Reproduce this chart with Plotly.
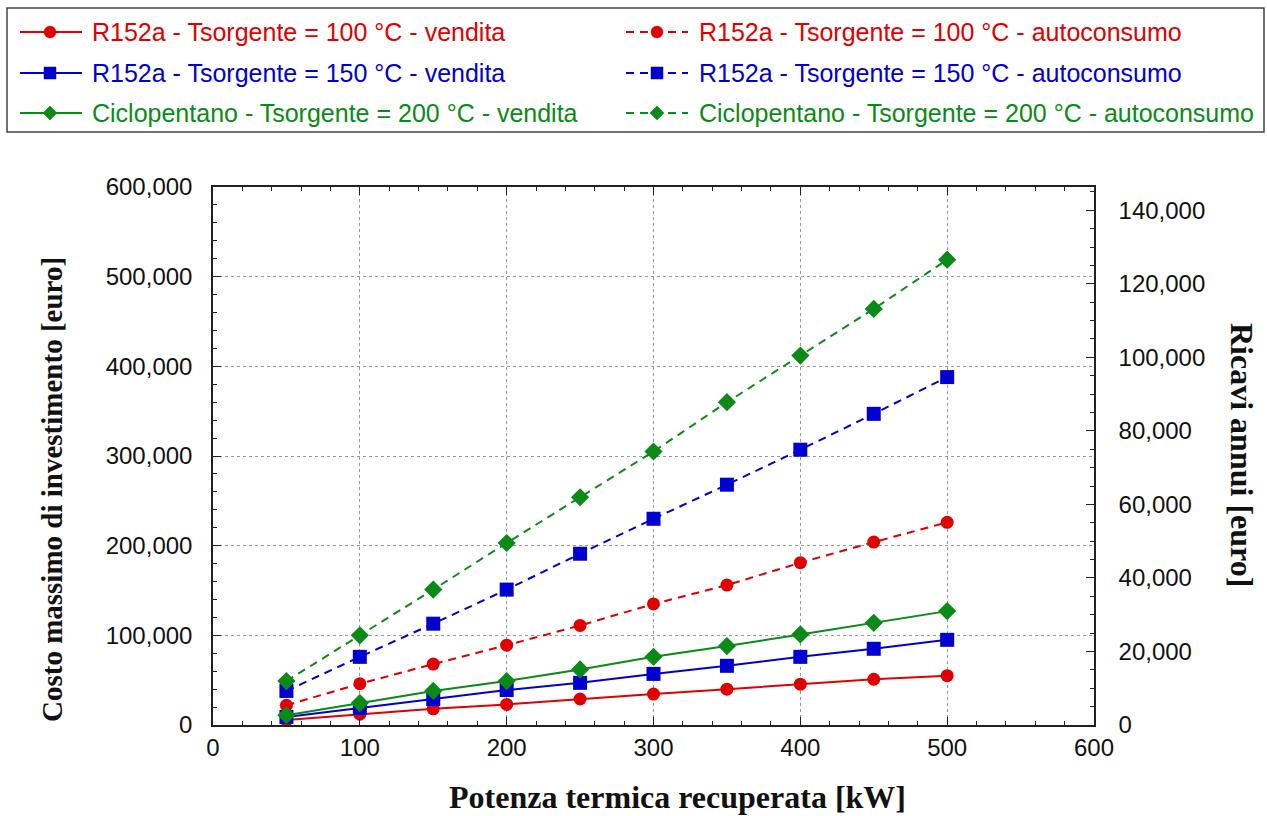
import plotly.graph_objects as go

# Potenza termica recuperata [kW]
potenza = [50, 100, 150, 200, 250, 300, 350, 400, 450, 500]

# Costo massimo di investimento [euro]
r152a_100_vendita = [5500, 12000, 18000, 23000, 29000, 34500, 40000, 45500, 51000, 55000]
r152a_100_autoconsumo = [22000, 46000, 68000, 89000, 111000, 135000, 156000, 181000, 204000, 226000]
r152a_150_vendita = [9000, 19000, 29000, 39000, 47000, 57000, 66000, 76000, 85000, 95000]
r152a_150_autoconsumo = [38000, 76000, 113000, 151000, 191000, 230000, 268000, 307000, 347000, 388000]
ciclo_200_vendita = [11000, 24500, 38000, 49000, 62000, 76000, 88000, 101000, 114000, 127000]
ciclo_200_autoconsumo = [49000, 100000, 151000, 203000, 254000, 305000, 360000, 412000, 464000, 519000]

RED = "#e00000"
BLUE = "#0000d0"
GREEN = "#0b8a17"

# (label, values, colour, marker, dashed, marker size)
series = [
    ("R152a - Tsorgente = 100 °C - vendita", r152a_100_vendita, RED, "circle", False, 13),
    ("R152a - Tsorgente = 100 °C - autoconsumo", r152a_100_autoconsumo, RED, "circle", True, 13),
    ("R152a - Tsorgente = 150 °C - vendita", r152a_150_vendita, BLUE, "square", False, 14),
    ("R152a - Tsorgente = 150 °C - autoconsumo", r152a_150_autoconsumo, BLUE, "square", True, 14),
    ("Ciclopentano - Tsorgente = 200 °C - vendita", ciclo_200_vendita, GREEN, "diamond", False, 14),
    ("Ciclopentano - Tsorgente = 200 °C - autoconsumo", ciclo_200_autoconsumo, GREEN, "diamond", True, 14),
]

W, H = 1267, 816
PL, PR, PT, PB = 213, 1094, 187, 725   # plot area in pixels

def px(x):
    return (x - PL) / (PR - PL)

def py(y):
    return (PB - y) / (PB - PT)

DASH = "8px,6px"

fig = go.Figure()
for name, vals, color, symbol, dashed, msize in series:
    fig.add_trace(go.Scatter(
        x=potenza, y=vals, mode="lines+markers", name=name, showlegend=False,
        line=dict(color=color, width=2, dash=DASH if dashed else "solid"),
        marker=dict(color=color, symbol=symbol, size=msize),
    ))

# secondary axis (Ricavi annui) carries no marks of its own
fig.add_trace(go.Scatter(x=[None], y=[None], yaxis="y2", showlegend=False, hoverinfo="skip"))

# ---- legend box drawn by hand: two columns, three rows ----
shapes = [dict(type="rect", xref="paper", yref="paper",
               x0=px(7), x1=px(1264), y0=py(8), y1=py(132),
               line=dict(color="#444", width=1.5), fillcolor="white", layer="above")]
annotations = []
rows = [32, 73, 113]
cols = [(20, 82, 50, 90), (626, 688, 657, 697)]  # line start, line end, marker x, text x
for i, (name, vals, color, symbol, dashed, msize) in enumerate(series):
    r, c = rows[i // 2], cols[i % 2]
    x0, x1, mx, tx = c
    shapes.append(dict(type="line", xref="paper", yref="paper",
                       x0=px(x0), x1=px(x1), y0=py(r), y1=py(r), layer="above",
                       line=dict(color=color, width=2, dash=DASH if dashed else "solid")))
    if symbol == "circle":
        s = 6
        shapes.append(dict(type="circle", xref="paper", yref="paper",
                           x0=px(mx - s), x1=px(mx + s), y0=py(r + s), y1=py(r - s),
                           fillcolor=color, line=dict(color=color, width=0.5), layer="above"))
    elif symbol == "square":
        s = 6
        shapes.append(dict(type="rect", xref="paper", yref="paper",
                           x0=px(mx - s), x1=px(mx + s), y0=py(r + s), y1=py(r - s),
                           fillcolor=color, line=dict(color=color, width=0.5), layer="above"))
    else:
        s = 7
        path = (f"M {px(mx - s)} {py(r)} L {px(mx)} {py(r - s)} "
                f"L {px(mx + s)} {py(r)} L {px(mx)} {py(r + s)} Z")
        shapes.append(dict(type="path", xref="paper", yref="paper", path=path,
                           fillcolor=color, line=dict(color=color, width=0.5), layer="above"))
    annotations.append(dict(text=name, xref="paper", yref="paper", x=px(tx), y=py(r),
                            xanchor="left", yanchor="middle", showarrow=False,
                            font=dict(family="Liberation Sans, Arial", size=25, color=color)))

tick_font = dict(family="Liberation Sans, Arial", size=24, color="#111")
serif = "Liberation Serif, Times New Roman"

annotations += [
    dict(text="<b>Potenza termica recuperata [kW]</b>", xref="paper", yref="paper",
         x=px(677), y=py(797), xanchor="center", yanchor="middle",
         showarrow=False, font=dict(family=serif, size=32, color="#111")),
    dict(text="<b>Costo massimo di investimento [euro]</b>", xref="paper", yref="paper",
         x=px(52), y=py(490), xanchor="center", yanchor="middle",
         textangle=-90, showarrow=False, font=dict(family=serif, size=29, color="#111")),
    dict(text="<b>Ricavi annui [euro]</b>", xref="paper", yref="paper",
         x=px(1242), y=py(455), xanchor="center", yanchor="middle",
         textangle=90, showarrow=False, font=dict(family=serif, size=32, color="#111")),
]

fig.update_layout(
    width=W, height=H,
    margin=dict(l=PL, r=W - PR, t=PT, b=H - PB, autoexpand=False),
    paper_bgcolor="white", plot_bgcolor="white",
    separators=".,",
    showlegend=False,
    xaxis=dict(
        range=[0, 600], dtick=100, tickformat="d",
        ticks="inside", ticklen=8, tickcolor="#222",
        minor=dict(dtick=20, ticks="inside", ticklen=4, tickcolor="#222", showgrid=False),
        showline=True, linecolor="#222", linewidth=1.5, mirror="ticks",
        showgrid=True, gridcolor="#999", griddash="dot", gridwidth=1,
        zeroline=False, tickfont=tick_font,
    ),
    yaxis=dict(
        range=[0, 600000], dtick=100000, tickformat=",d",
        ticks="inside", ticklen=8, tickcolor="#222",
        minor=dict(dtick=20000, ticks="inside", ticklen=4, tickcolor="#222", showgrid=False),
        showline=True, linecolor="#222", linewidth=1.5,
        showgrid=True, gridcolor="#999", griddash="dot", gridwidth=1,
        zeroline=False, tickfont=tick_font, ticklabelstandoff=14,
    ),
    yaxis2=dict(
        overlaying="y", side="right",
        range=[0, 600000 / 4.1], dtick=20000, tickformat=",d",
        ticks="inside", ticklen=8, tickcolor="#222",
        minor=dict(dtick=5000, ticks="inside", ticklen=4, tickcolor="#222", showgrid=False),
        showline=True, linecolor="#222", linewidth=1.5,
        showgrid=False, zeroline=False, tickfont=tick_font, ticklabelstandoff=18,
    ),
    shapes=shapes,
    annotations=annotations,
)

fig.write_html("out.html")
